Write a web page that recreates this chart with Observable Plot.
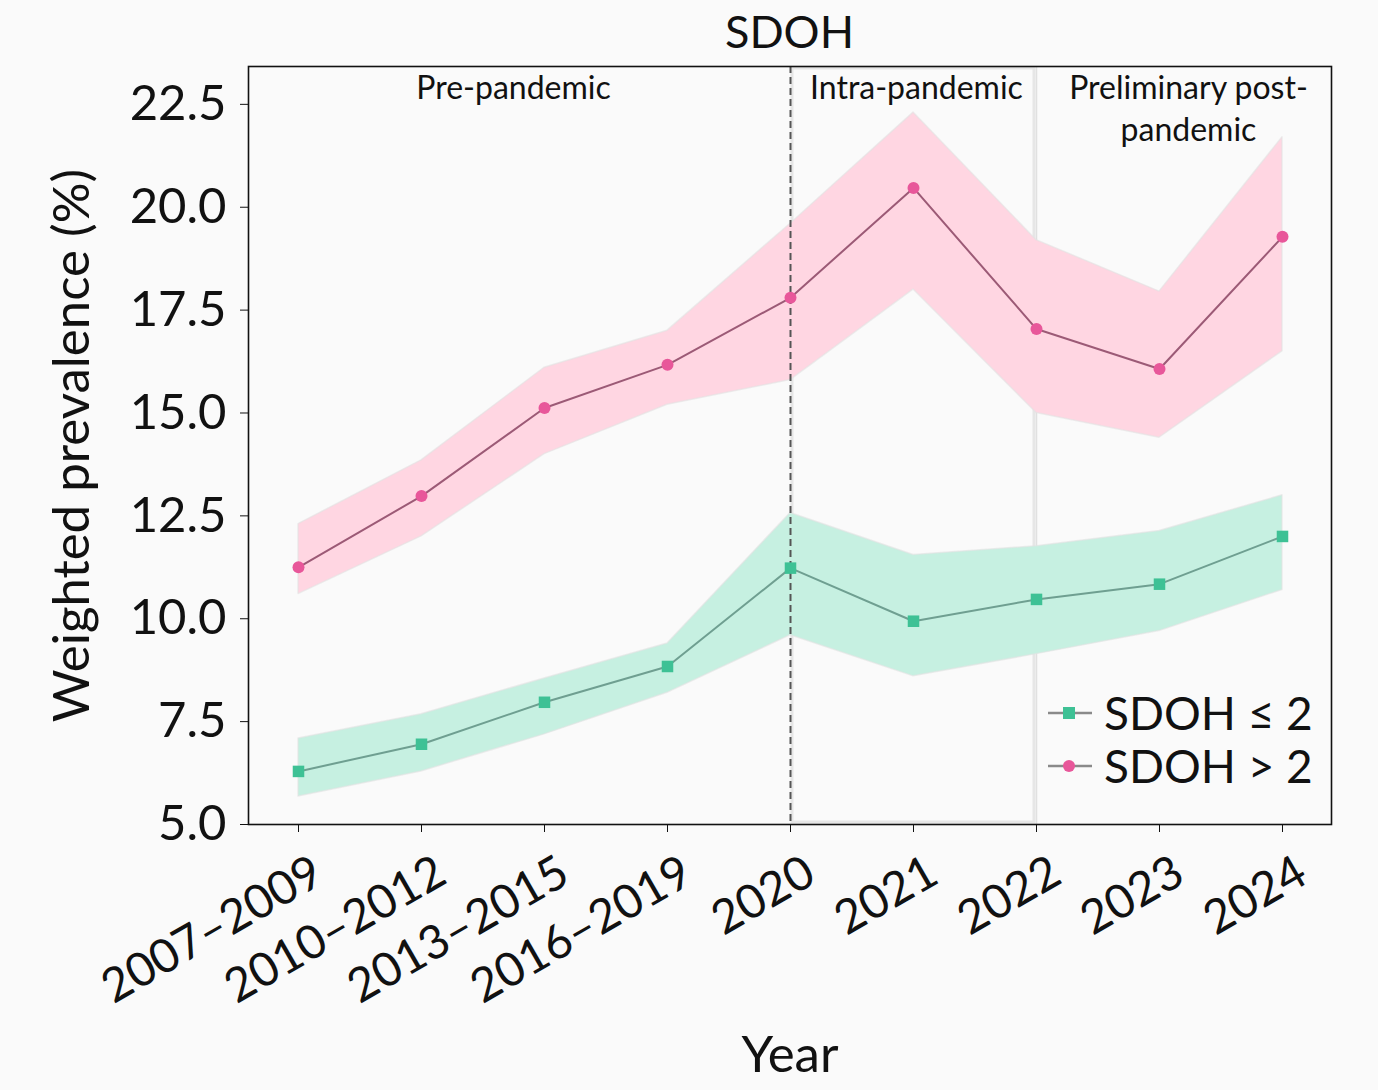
<!DOCTYPE html>
<html>
<head>
<meta charset="utf-8">
<script src="https://cdn.jsdelivr.net/npm/d3@7"></script>
<script src="https://cdn.jsdelivr.net/npm/@observablehq/plot@0.6"></script>
<style>
  html, body { margin: 0; padding: 0; background: #fafafa; }
  body { width: 1378px; height: 1090px; position: relative; overflow: hidden; font-family: Lato, "Open Sans", sans-serif; }
  #title { height: 62px; line-height: 62px; padding-left: 248px; width: 1083px; text-align: center; font-size: 45px; color: #111; }
  #legend { position: absolute; left: 1046px; top: 686px; font-size: 46px; color: #111; }
  .row { display: flex; align-items: center; height: 53px; }
  .row svg { margin-right: 10px; }
</style>
</head>
<body>
<div id="title">SDOH</div>
<div id="chart"></div>
<div id="legend"></div>
<script>
const periods = ["2007–2009","2010–2012","2013–2015","2016–2019","2020","2021","2022","2023","2024"];
const lowValue = [6.29, 6.95, 7.97, 8.84, 11.23, 9.94, 10.47, 10.84, 12.0];
const lowLower = [5.68, 6.29, 7.19, 8.2, 9.6, 8.6, 9.14, 9.7, 10.7];
const lowUpper = [7.09, 7.68, 8.55, 9.4, 12.57, 11.55, 11.76, 12.13, 13.0];
const highValue = [11.25, 12.98, 15.12, 16.17, 17.8, 20.47, 17.04, 16.07, 19.28];
const highLower = [10.6, 12.0, 14.0, 15.2, 15.8, 18.0, 15.0, 14.4, 16.5];
const highUpper = [12.3, 13.85, 16.1, 17.0, 19.6, 22.3, 19.2, 17.95, 21.7];
const yTicks = [5, 7.5, 10, 12.5, 15, 17.5, 20, 22.5];
const seriesNames = ["SDOH ≤ 2", "SDOH > 2"];
const phaseLabels = ["Pre-pandemic", "Intra-pandemic", "Preliminary post-\npandemic"];
const phaseAt = ["2013–2015", "2021", "2023"];
const phaseShift = [-31, 3, 29];

const low = periods.map((p, i) => ({period: p, value: lowValue[i], lo: lowLower[i], hi: lowUpper[i]}));
const high = periods.map((p, i) => ({period: p, value: highValue[i], lo: highLower[i], hi: highUpper[i]}));

const green = {fill: "#c6f0e1", line: "#6f9f91", marker: "#3ec195"};
const pink = {fill: "#ffd6e2", line: "#9c5a76", marker: "#e8579a"};

const phaseMarks = phaseLabels.map((t, i) =>
  Plot.text([t], {x: () => phaseAt[i], text: d => d, dx: phaseShift[i], frameAnchor: "top", dy: 3, lineAnchor: "top", fontSize: 32, lineHeight: 1.3, fill: "#111"})
);

const chart = Plot.plot({
  width: 1378,
  height: 1028,
  marginTop: 4,
  marginLeft: 248,
  marginRight: 47,
  marginBottom: 266,
  style: {fontFamily: "Lato, 'Open Sans', sans-serif", background: "transparent", color: "#111"},
  x: {type: "point", domain: periods, padding: 0.4},
  y: {domain: [5, 23.42]},
  marks: [
    Plot.rect([{a: "2020", b: "2022"}], {x1: "a", x2: "b", y1: 5, y2: 23.42, fill: "none", stroke: "#e6e6e6", strokeWidth: 3, inset: 2}),
    Plot.ruleX(["2022"], {stroke: "#e0e0e0", strokeWidth: 1.5}),
    Plot.areaY(low, {x: "period", y1: "lo", y2: "hi", fill: green.fill, stroke: "#e2e2e2", strokeWidth: 1.5, strokeOpacity: 0.6}),
    Plot.areaY(high, {x: "period", y1: "lo", y2: "hi", fill: pink.fill, stroke: "#e2e2e2", strokeWidth: 1.5, strokeOpacity: 0.6}),
    Plot.ruleX(["2020"], {stroke: "#555", strokeWidth: 2, strokeDasharray: "7,4"}),
    Plot.lineY(low, {x: "period", y: "value", stroke: green.line, strokeWidth: 2}),
    Plot.lineY(high, {x: "period", y: "value", stroke: pink.line, strokeWidth: 2}),
    Plot.dot(low, {x: "period", y: "value", symbol: "square", r: 6.5, fill: green.marker}),
    Plot.dot(high, {x: "period", y: "value", symbol: "circle", r: 6, fill: pink.marker}),
    ...phaseMarks,
    Plot.frame({stroke: "#111", strokeWidth: 1.6}),
    Plot.axisY({ticks: yTicks, tickFormat: d => d.toFixed(1), fontSize: 49, tickSize: 8, tickPadding: 14, label: null}),
    Plot.axisX({tickSize: 8, tickFormat: () => "", label: null}),
    Plot.axisX({tickRotate: -30, fontSize: 47, tickSize: 0, tickPadding: 14, label: null, dx: 20, dy: 30}),
    Plot.text(["Weighted prevalence (%)"], {frameAnchor: "left", dx: -176, rotate: -90, fontSize: 51, textAnchor: "middle", lineAnchor: "middle", fill: "#111"}),
    Plot.text(["Year"], {frameAnchor: "bottom", dy: 231, fontSize: 51, textAnchor: "middle", lineAnchor: "middle", fill: "#111"})
  ]
});
document.getElementById("chart").appendChild(chart);

const legend = document.getElementById("legend");
const legendStyles = [green, pink];
seriesNames.forEach((name, i) => {
  const c = legendStyles[i];
  const row = document.createElement("div");
  row.className = "row";
  const sym = i === 0
    ? `<rect x="17" y="7" width="12" height="12" fill="${c.marker}"/>`
    : `<circle cx="23" cy="13" r="6" fill="${c.marker}"/>`;
  row.innerHTML = `<svg width="48" height="26"><line x1="2" x2="46" y1="13" y2="13" stroke="#8a8a8a" stroke-width="2.5"/>${sym}</svg><span>${name}</span>`;
  legend.appendChild(row);
});
</script>
</body>
</html>
